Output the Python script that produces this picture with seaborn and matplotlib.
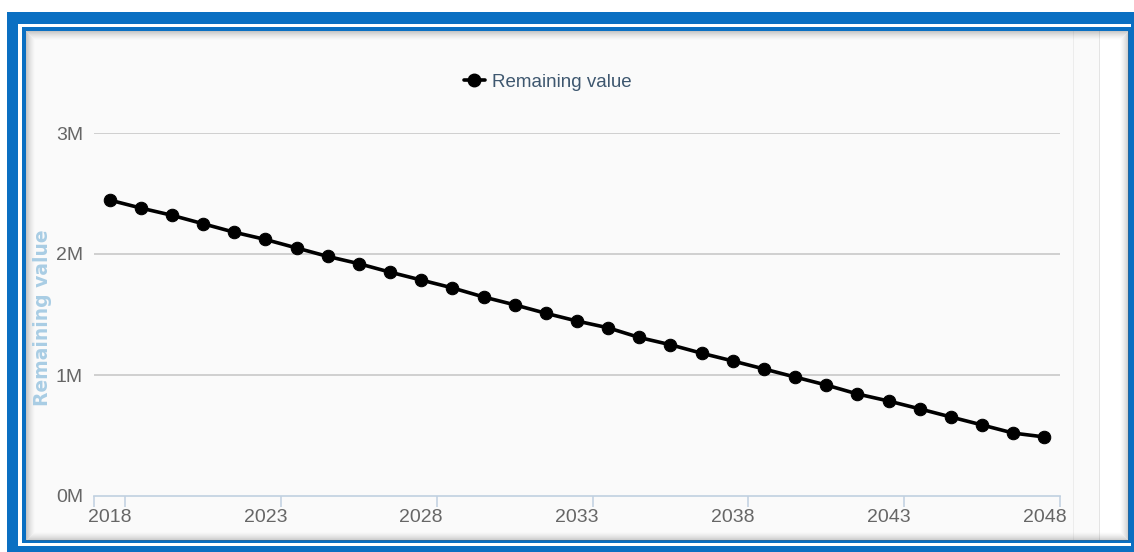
import matplotlib
matplotlib.use("Agg")
import matplotlib.pyplot as plt
from matplotlib.patches import Rectangle
from matplotlib.lines import Line2D
import seaborn as sns
import pandas as pd

# Data
years = list(range(2018, 2049))
remaining_value = [
    2.446, 2.38, 2.32, 2.25, 2.18, 2.12, 2.05, 1.98, 1.92, 1.85,
    1.785, 1.72, 1.645, 1.58, 1.51, 1.446, 1.39, 1.31, 1.25, 1.18,
    1.116, 1.05, 0.983, 0.917, 0.843, 0.785, 0.72, 0.653, 0.587, 0.52,
    0.488,
]
tick_years = [2018, 2023, 2028, 2033, 2038, 2043, 2048]
y_ticks = [0, 1, 2, 3]
y_labels = ["0M", "1M", "2M", "3M"]

W, H = 1134, 552
BLUE = "#0a6fc2"
TICK_COLOR = "#666666"

sns.set_style("white")
plt.rcParams["font.family"] = ["Liberation Sans", "DejaVu Sans"]

fig = plt.figure(figsize=(W / 100, H / 100), dpi=100)
fig.patch.set_facecolor("white")


def px_rect(x0, y0, x1, y1, **kw):
    """Rectangle given in pixel coords measured from the top-left."""
    r = Rectangle((x0 / W, 1 - y1 / H), (x1 - x0) / W, (y1 - y0) / H,
                  transform=fig.transFigure, zorder=-10, **kw)
    fig.patches.append(r)
    return r


# Frame: blue border, white gap, thin blue line, grey panel with inner shadow
px_rect(7, 12, 1134, 552, facecolor=BLUE, edgecolor="none")
px_rect(18, 24, 1131, 546, facecolor="white", edgecolor="none")
px_rect(22, 27, 1131, 543, facecolor=BLUE, edgecolor="none")
px_rect(26, 31, 1128, 540, facecolor="#fafafa", edgecolor="none")
px_rect(1099, 31, 1128, 540, facecolor="white", edgecolor="none")
px_rect(1073, 31, 1074, 540, facecolor="#ececec", edgecolor="none")
px_rect(1099, 31, 1100, 540, facecolor="#e4e4e4", edgecolor="none")
for i in range(9):
    a = 0.32 * (1 - i / 9) ** 1.5
    px_rect(26 + i, 31 + i, 1128 - i, 540 - i, facecolor="none",
            edgecolor=(0.35, 0.35, 0.35, a), linewidth=0.72)

# Plot area
ax = fig.add_axes([94 / W, (H - 496) / H, (1060 - 94) / W, (496 - 133) / H])
ax.set_facecolor("none")
ax.set_zorder(5)

df = pd.DataFrame({"year": years, "value": remaining_value})
sns.lineplot(data=df, x="year", y="value", ax=ax, color="black",
             linewidth=2.6, marker="o", markersize=9,
             markeredgecolor="black", zorder=5, clip_on=False)

ax.set_xlim(2017.5, 2048.5)
ax.set_ylim(0, 3)

ax.set_yticks(y_ticks)
ax.set_yticklabels(y_labels, fontsize=14, color=TICK_COLOR)
ax.tick_params(axis="y", length=0, pad=8)
for yv in y_ticks[1:]:
    ax.axhline(yv, color="#c4c4c4", linewidth=1.1, zorder=1)

ax.set_xticks(tick_years)
ax.set_xticklabels([str(t) for t in tick_years], fontsize=14, color=TICK_COLOR)
ax.set_xticks([2017.5] + [t + 0.5 for t in tick_years], minor=True)
ax.tick_params(axis="x", which="both", bottom=True)
ax.tick_params(axis="x", which="major", length=0, pad=9)
ax.tick_params(axis="x", which="minor", length=8, width=1.1, color="#c0d0e0")

for s in ["top", "right", "left"]:
    ax.spines[s].set_visible(False)
ax.spines["bottom"].set_color("#c0d0e0")
ax.spines["bottom"].set_linewidth(1.2)

ax.set_xlabel("")
ax.set_ylabel("Remaining value", fontsize=13.5, fontweight="bold",
              color="#a9cde4", family="DejaVu Sans")
ax.yaxis.set_label_coords((52 - 94) / (1060 - 94), (496 - 318) / (496 - 133))

handle = Line2D([], [], color="black", linewidth=2.6, marker="o", markersize=9)
leg = ax.legend([handle], ["Remaining value"], loc="center",
                bbox_to_anchor=((548 - 94) / (1060 - 94), 1 + (133 - 82) / (496 - 133)),
                frameon=False, fontsize=13.5, handlelength=1.1, handletextpad=0.4)
for t in leg.get_texts():
    t.set_color("#3e576f")

fig.savefig("out.png", dpi=100)
